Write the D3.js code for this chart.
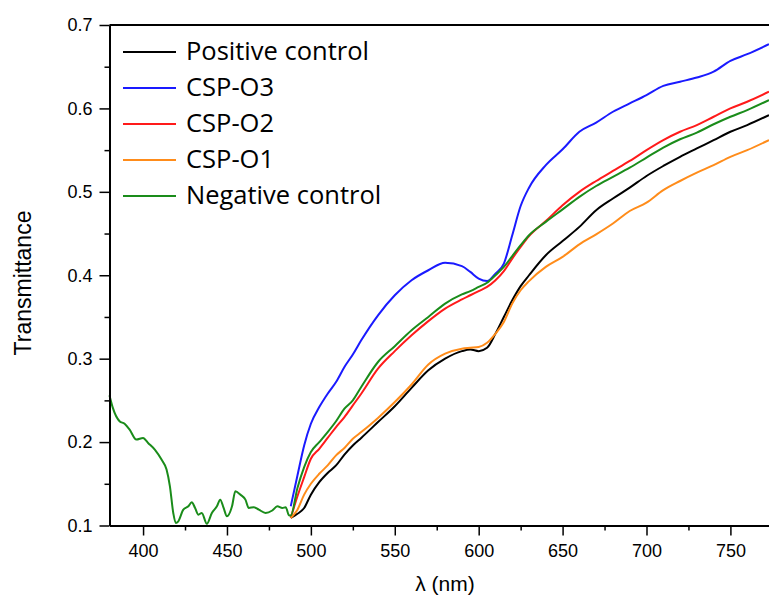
<!DOCTYPE html>
<html>
<head>
<meta charset="utf-8">
<script src="https://cdn.jsdelivr.net/npm/d3@7"></script>
<style>
  body { margin: 0; background: #fff; }
  svg { display: block; }
  .tick text { font-family: "Liberation Sans", Arial, sans-serif; font-size: 18px; }
</style>
</head>
<body>
<div id="chart"></div>
<script>
// wavelengths where the samples rise (all series share this grid)
const waves = [488, 492, 496, 500, 505, 510, 515, 520, 525, 530, 540, 550, 560, 570, 580, 590, 595, 600,
  605, 610, 615, 620, 625, 630, 640, 650, 660, 670, 680, 690, 700, 710, 720, 730, 740, 750, 760, 773];

const positiveControl = [0.109, 0.114, 0.121, 0.137, 0.152, 0.163, 0.172, 0.185, 0.196, 0.205, 0.224, 0.243,
  0.265, 0.286, 0.300, 0.309, 0.311, 0.309, 0.313, 0.330, 0.350, 0.370, 0.387, 0.400, 0.424, 0.441,
  0.458, 0.478, 0.492, 0.505, 0.519, 0.531, 0.542, 0.552, 0.562, 0.572, 0.580, 0.592];

const cspO3 = [0.123, 0.160, 0.196, 0.222, 0.242, 0.258, 0.272, 0.290, 0.305, 0.322, 0.352, 0.376,
  0.394, 0.406, 0.415, 0.411, 0.404, 0.396, 0.393, 0.402, 0.414, 0.448, 0.483, 0.505, 0.532, 0.551,
  0.572, 0.583, 0.596, 0.606, 0.616, 0.627, 0.632, 0.637, 0.644, 0.657, 0.665, 0.677];

const cspO2 = [0.109, 0.135, 0.158, 0.180, 0.192, 0.205, 0.218, 0.230, 0.244, 0.258, 0.288, 0.309,
  0.328, 0.345, 0.360, 0.371, 0.376, 0.381, 0.386, 0.394, 0.405, 0.420, 0.434, 0.447, 0.465, 0.484,
  0.500, 0.513, 0.525, 0.537, 0.550, 0.562, 0.572, 0.580, 0.590, 0.600, 0.608, 0.620];

const cspO1 = [0.109, 0.119, 0.137, 0.150, 0.162, 0.172, 0.184, 0.193, 0.204, 0.212, 0.229, 0.248,
  0.269, 0.293, 0.306, 0.312, 0.313, 0.314, 0.319, 0.330, 0.344, 0.366, 0.382, 0.393, 0.410, 0.422,
  0.437, 0.449, 0.462, 0.477, 0.487, 0.502, 0.513, 0.523, 0.532, 0.542, 0.550, 0.562];

const negativeControl = [0.112, 0.145, 0.170, 0.188, 0.200, 0.212, 0.225, 0.240, 0.250, 0.266, 0.296, 0.315,
  0.334, 0.350, 0.366, 0.377, 0.381, 0.386, 0.391, 0.400, 0.410, 0.423, 0.436, 0.448, 0.464, 0.479,
  0.494, 0.507, 0.518, 0.529, 0.541, 0.553, 0.563, 0.571, 0.581, 0.590, 0.598, 0.610];

// negative control below 488 nm (only that series is measured there)
const negWavesLow = [380, 382, 386, 389, 392, 396, 400, 403, 407, 411, 414, 416, 418, 419.5, 421, 424, 427,
  429, 431, 433, 435, 438, 441, 444, 446, 448, 450, 453, 455, 458, 461, 463, 466, 469, 473, 477, 480, 483, 485, 487];
const negValsLow = [0.256, 0.241, 0.225, 0.222, 0.215, 0.203, 0.205, 0.199, 0.191, 0.179, 0.167, 0.147, 0.115,
  0.103, 0.105, 0.119, 0.123, 0.128, 0.121, 0.113, 0.115, 0.102, 0.115, 0.123, 0.131, 0.121, 0.111, 0.123,
  0.141, 0.137, 0.131, 0.121, 0.122, 0.119, 0.115, 0.118, 0.123, 0.121, 0.122, 0.112];

const seriesNames = ["Positive control", "CSP-O3", "CSP-O2", "CSP-O1", "Negative control"];
const seriesColors = ["#000000", "#1a1aff", "#ff1a1a", "#ff8c1a", "#1a8c1a"];
const xTicks = [400, 450, 500, 550, 600, 650, 700, 750];
const yTicks = [0.1, 0.2, 0.3, 0.4, 0.5, 0.6, 0.7];

const W = 769, H = 599;
const svg = d3.select("#chart").append("svg").attr("width", W).attr("height", H);

const x = d3.scaleLinear().domain([380, 773]).range([109.5, 769]);
const y = d3.scaleLinear().domain([0.1, 0.7]).range([525.5, 25]);

const toPts = (ws, vs) => ws.map((w, i) => ({ w: w, v: vs[i] }));
const series = [
  toPts(waves, positiveControl),
  toPts(waves, cspO3),
  toPts(waves, cspO2),
  toPts(waves, cspO1),
  toPts(negWavesLow, negValsLow).concat(toPts(waves, negativeControl)),
];

const line = d3.line().curve(d3.curveMonotoneX).x((d) => x(d.w)).y((d) => y(d.v));

series.forEach((s, i) => {
  svg.append("path")
    .datum(s)
    .attr("fill", "none")
    .attr("stroke", seriesColors[i])
    .attr("stroke-width", 2)
    .attr("stroke-linejoin", "round")
    .attr("d", line);
});

// minor ticks
svg.append("g")
  .attr("transform", `translate(0,${y(0.1)})`)
  .call(d3.axisBottom(x).tickValues(xTicks.map((t) => t + 25)).tickSize(5).tickFormat(""))
  .call((g) => g.select(".domain").remove())
  .selectAll("line").attr("stroke-width", 1.5);

svg.append("g")
  .attr("transform", `translate(${x(380)},0)`)
  .call(d3.axisLeft(y).tickValues(yTicks.slice(0, -1).map((t) => t + 0.05)).tickSize(5).tickFormat(""))
  .call((g) => g.select(".domain").remove())
  .selectAll("line").attr("stroke-width", 1.5);

// major axes
const xAxis = svg.append("g")
  .attr("transform", `translate(0,${y(0.1)})`)
  .call(d3.axisBottom(x).tickValues(xTicks).tickSize(10).tickSizeOuter(0).tickPadding(9));
xAxis.select(".domain").attr("stroke-width", 2);
xAxis.selectAll("line").attr("stroke-width", 1.5);

const yAxis = svg.append("g")
  .attr("transform", `translate(${x(380)},0)`)
  .call(d3.axisLeft(y).tickValues(yTicks).tickFormat(d3.format(".1f")).tickSize(10).tickSizeOuter(0).tickPadding(7));
yAxis.select(".domain").attr("stroke-width", 2);
yAxis.selectAll("line").attr("stroke-width", 1.5);

// top frame
svg.append("line")
  .attr("x1", x(380)).attr("x2", W)
  .attr("y1", y(0.7)).attr("y2", y(0.7))
  .attr("stroke", "#000").attr("stroke-width", 2);

// axis titles
svg.append("text")
  .attr("transform", `translate(31,${283}) rotate(-90)`)
  .attr("text-anchor", "middle")
  .style("font-family", "'Liberation Sans', Arial, sans-serif")
  .style("font-size", "23px")
  .text("Transmittance");

svg.append("text")
  .attr("x", 445).attr("y", 591)
  .attr("text-anchor", "middle")
  .style("font-family", "'Liberation Sans', Arial, sans-serif")
  .style("font-size", "21px")
  .text("λ (nm)");

// legend
const legend = svg.append("g");
seriesNames.forEach((name, i) => {
  const base = 60 + i * 36;
  legend.append("line")
    .attr("x1", 123).attr("x2", 176)
    .attr("y1", base - 8).attr("y2", base - 8)
    .attr("stroke", seriesColors[i]).attr("stroke-width", 2);
  legend.append("text")
    .attr("x", 186).attr("y", base)
    .style("font-family", "'Open Sans', sans-serif")
    .style("font-size", "25.5px")
    .text(name);
});
</script>
</body>
</html>
